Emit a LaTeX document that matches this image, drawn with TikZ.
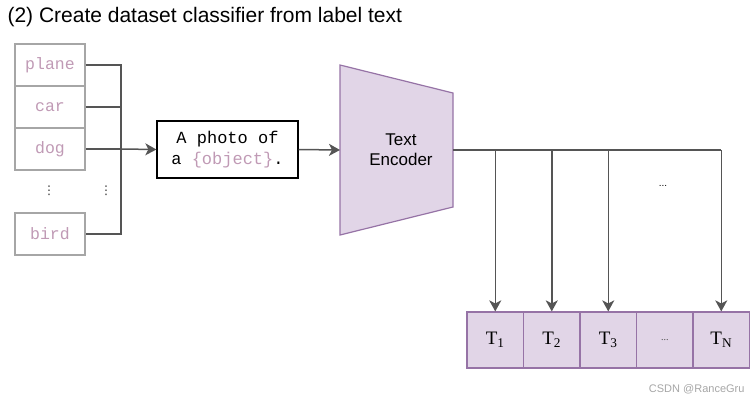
\documentclass[tikz,border=0pt]{standalone}
\usepackage{fontspec}
\setmainfont{Liberation Serif}
\setsansfont{Liberation Sans}
\setmonofont{Liberation Mono}
\newfontfamily\djv{DejaVu Sans}
\usetikzlibrary{arrows.meta}
\definecolor{encfill}{HTML}{E1D5E7}
\definecolor{encdraw}{HTML}{9673A6}
\definecolor{labelc}{HTML}{C09AB5}
\definecolor{lbox}{HTML}{A6A6A6}
\definecolor{wire}{HTML}{555555}
\tikzset{
  lblbox/.style={draw=lbox, line width=1.2pt, minimum width=70pt, minimum height=42pt, inner sep=0pt,
    font=\fontsize{16.5}{19}\ttfamily, text=labelc},
  tbox/.style={draw=encdraw, fill=encfill, line width=1.2pt, minimum width=56.5pt, minimum height=56pt, inner sep=0pt,
    font=\fontsize{19}{22}\rmfamily},
  wireline/.style={draw=wire, line width=1.5pt},
  arr/.style={wireline, arrows={-Stealth[length=11pt,width=12pt,inset=3pt]}},
  vdot/.style={font=\fontsize{12}{14}\djv, text=black!80},
}
\begin{document}
\begin{tikzpicture}[x=1pt, y=-1pt]
\useasboundingbox (0,0) rectangle (754,402);
\node[anchor=base west, font=\fontsize{21}{24}\sffamily] (title) at (4,22) {(2) Create dataset classifier from label text};

\node[lblbox] (plane) at (50,65) {plane};
\node[lblbox] (car) at (50,107) {car};
\node[lblbox] (dog) at (50,149) {dog};
\node[lblbox] (bird) at (50,234) {bird};
\node[vdot] (vd1) at (49,191) {⋮};
\node[vdot] (vd2) at (106,191) {⋮};

\coordinate (jtop) at (121,65);
\coordinate (jbot) at (121,234);
\draw[wireline] (plane.east) -- (jtop) -- (jbot) -- (bird.east);
\draw[wireline] (car.east) -- (car.east -| jtop);
\draw[wireline] (dog.east) -- (dog.east -| jtop);

\node[draw=black, line width=1.3pt, minimum width=141pt, minimum height=57pt, inner sep=0pt,
  align=center, font=\fontsize{17}{21}\ttfamily] (photo) at (227.5,149.5)
  {A photo of\\a \textcolor{labelc}{\{object\}}.};
\draw[arr] (dog.east -| jtop) -- (photo.west);

\draw[draw=encdraw, fill=encfill, line width=1.2pt] (340,65) -- (453,93) -- (453,207) -- (340,235) -- cycle;
\node[align=center, font=\fontsize{17}{20}\sffamily] (enc) at (401,150) {Text\\Encoder};
\coordinate (encin) at (340,150);
\coordinate (encout) at (453,150);
\draw[arr] (photo.east) -- (encin);

\node[tbox] (t1) at (495.25,340) {T\textsubscript{1}};
\node[tbox] (t2) at (551.75,340) {T\textsubscript{2}};
\node[tbox] (t3) at (608.25,340) {T\textsubscript{3}};
\node[tbox, font=\fontsize{10}{12}\rmfamily, text=black!70] (t4) at (664.75,340) {...};
\node[tbox] (t5) at (721.25,340) {T\textsubscript{N}};

\draw[wireline] (encout) -- (encout -| t5.north);
\draw[arr] (encout -| t1.north) -- (t1.north);
\draw[arr] (encout -| t2.north) -- (t2.north);
\draw[arr] (encout -| t3.north) -- (t3.north);
\draw[arr] (encout -| t5.north) -- (t5.north);
\node[font=\fontsize{10}{12}\sffamily] (dots) at (663,186) {...};

\node[anchor=base east, font=\fontsize{11}{13}\sffamily, text=black!35] (wm) at (748,392) {CSDN @RanceGru};
\end{tikzpicture}
\end{document}
